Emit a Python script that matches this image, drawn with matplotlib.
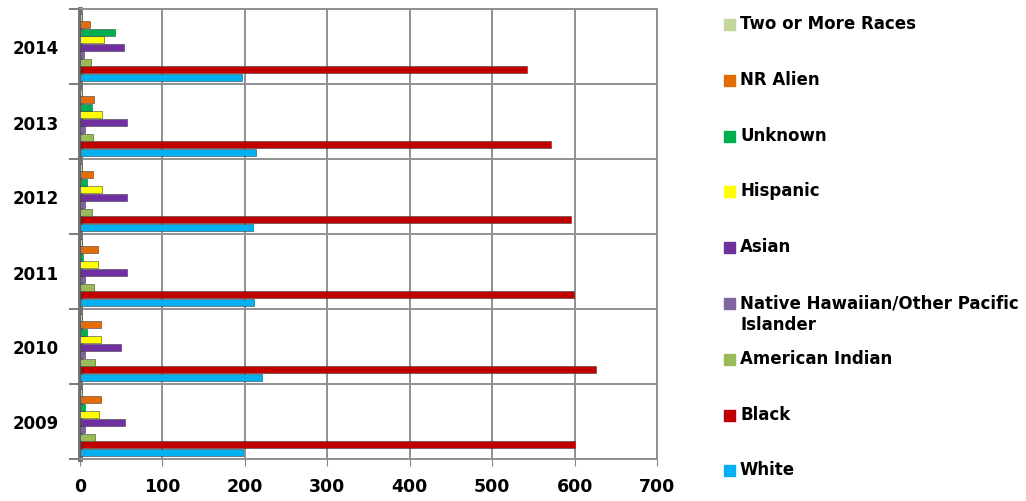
import matplotlib.pyplot as plt
import numpy as np

years = ['2009', '2010', '2011', '2012', '2013', '2014']
series = ['White', 'Black', 'American Indian', 'Native Hawaiian/Other Pacific\nIslander',
          'Asian', 'Hispanic', 'Unknown', 'NR Alien', 'Two or More Races']
colors = ['#00B0F0', '#C00000', '#9BBB59', '#8064A2', '#7030A0',
          '#FFFF00', '#00B050', '#E36C09', '#C3D69B']

white = [198, 221, 211, 210, 213, 197]
black = [600, 626, 599, 596, 571, 542]
american_indian = [18, 18, 17, 15, 16, 13]
native_hawaiian = [6, 6, 6, 6, 6, 5]
asian = [54, 50, 57, 57, 57, 53]
hispanic = [23, 26, 22, 27, 27, 29]
unknown = [6, 9, 4, 8, 14, 42]
nr_alien = [26, 26, 22, 16, 17, 12]
two_or_more = [2, 2, 2, 3, 2, 2]
values = [white, black, american_indian, native_hawaiian, asian,
          hispanic, unknown, nr_alien, two_or_more]

x_ticks = [0, 100, 200, 300, 400, 500, 600, 700]

W, H = 1026, 502
fig = plt.figure(figsize=(W / 100, H / 100), dpi=100)
ax = fig.add_axes([80 / W, 1 - 460 / H, 577 / W, 450 / H])

ypos = np.arange(len(years))
step = 0.1
for i, (name, vals) in enumerate(zip(series, values)):
    ax.barh(ypos - 0.41 + i * step, vals, height=0.095, color=colors[i],
            edgecolor='#404040', linewidth=0.4, zorder=3)

ax.set_xlim(0, 700)
ax.set_ylim(-0.5, len(years) - 0.5)
ax.set_xticks(x_ticks)
ax.set_xticklabels([str(t) for t in x_ticks], fontsize=12.5, fontweight='bold')
ax.set_yticks(ypos)
ax.set_yticklabels(years, fontsize=12, fontweight='bold')
ax.tick_params(axis='y', length=0, pad=15)
ax.tick_params(axis='x', length=5, color='#888888', pad=8)
ax.set_yticks(np.arange(-0.5, len(years), 1), minor=True)
ax.tick_params(axis='y', which='minor', length=8, color='#666666', width=1.2)

ax.grid(True, which='major', axis='x', color='#909090', linewidth=1.4, zorder=0)
ax.grid(True, which='minor', axis='y', color='#909090', linewidth=1.4, zorder=0)
for s in ['top', 'right', 'bottom']:
    ax.spines[s].set_color('#909090')
    ax.spines[s].set_linewidth(1.4)
ax.spines['left'].set_color('#707070')
ax.spines['left'].set_linewidth(3.5)

# legend, top entry is the last series
for k, name in enumerate(reversed(series)):
    c = colors[len(series) - 1 - k]
    yp = 25 + k * 55.8
    fig.patches.append(plt.Rectangle((724 / W, 1 - (yp + 6) / H), 11 / W, 11 / H,
                                     transform=fig.transFigure, color=c))
    fig.text(740 / W, 1 - (yp - 10) / H, name, fontsize=12, fontweight='bold',
             va='top', ha='left', linespacing=1.25)

fig.savefig('out.png', dpi=100)
